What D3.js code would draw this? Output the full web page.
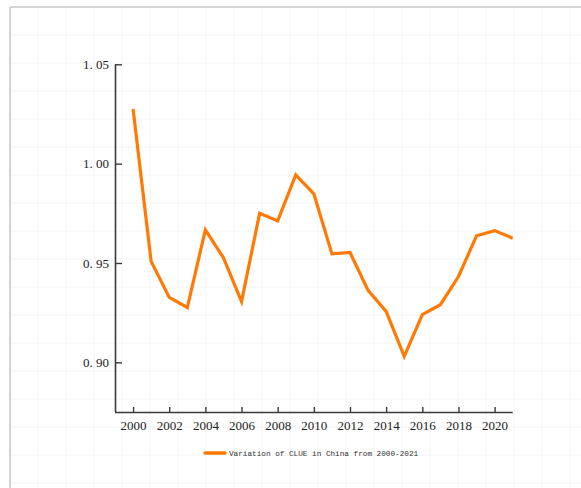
<!DOCTYPE html>
<html>
<head>
<meta charset="utf-8">
<script src="https://cdn.jsdelivr.net/npm/d3@7"></script>
<style>
  html, body { margin: 0; padding: 0; background: #fff; }
  svg { display: block; }
</style>
</head>
<body>
<svg id="chart" width="581" height="488"></svg>
<script>
// CLUE values by year, 2000–2021
const years = [2000, 2001, 2002, 2003, 2004, 2005, 2006, 2007, 2008, 2009, 2010,
               2011, 2012, 2013, 2014, 2015, 2016, 2017, 2018, 2019, 2020, 2021];
const clue = [1.0275, 0.9508, 0.9327, 0.9276, 0.9667, 0.9526, 0.9306, 0.9750, 0.9712, 0.9943, 0.9848,
              0.9546, 0.9553, 0.9362, 0.9256, 0.9030, 0.9240, 0.9290, 0.9432, 0.9637, 0.9663, 0.9625];
const xTicks = [2000, 2002, 2004, 2006, 2008, 2010, 2012, 2014, 2016, 2018, 2020];
const yTicks = [0.90, 0.95, 1.00, 1.05];
const seriesName = "Variation of CLUE in China from 2000-2021";

const W = 581, H = 488;
const svg = d3.select("#chart");

// Paper frame with a faint square grid
const frame = { x: 10, y: 7, step: 28 };
const bg = svg.append("g");
bg.selectAll("line.v")
  .data(d3.range(frame.x + frame.step, W, frame.step))
  .join("line")
  .attr("x1", d => d).attr("x2", d => d)
  .attr("y1", frame.y).attr("y2", H)
  .attr("stroke", "#f4f4f4").attr("stroke-width", 1);
bg.selectAll("line.h")
  .data(d3.range(frame.y + frame.step, H, frame.step))
  .join("line")
  .attr("x1", frame.x).attr("x2", W)
  .attr("y1", d => d).attr("y2", d => d)
  .attr("stroke", "#f4f4f4").attr("stroke-width", 1);
bg.append("line")
  .attr("x1", frame.x).attr("x2", W).attr("y1", frame.y).attr("y2", frame.y)
  .attr("stroke", "#d4d4d4").attr("stroke-width", 2);
bg.append("line")
  .attr("x1", frame.x).attr("x2", frame.x).attr("y1", frame.y).attr("y2", H)
  .attr("stroke", "#d4d4d4").attr("stroke-width", 2);

// Plot area
const plot = { left: 115, right: 512.7, top: 64.3, bottom: 412 };
const x = d3.scaleLinear().domain([1999, 2021]).range([plot.left, plot.right]);
const y = d3.scaleLinear().domain([0.875, 1.05]).range([plot.bottom, plot.top]);

const axisColor = "#3a3a3a";
const tickFont = "'Liberation Serif', 'DejaVu Serif', serif";

// Y axis: ticks point inward
const yAxis = svg.append("g")
  .attr("transform", `translate(${plot.left},0)`)
  .call(d3.axisLeft(y).tickValues(yTicks).tickSize(-7).tickPadding(6)
        .tickFormat(d => d3.format(".2f")(d).replace(".", ". ")));
yAxis.select(".domain").attr("d", `M0.5,${plot.top}V${plot.bottom}`);

// X axis: ticks point upward into the plot
const xAxis = svg.append("g")
  .attr("transform", `translate(0,${plot.bottom})`)
  .call(d3.axisBottom(x).tickValues(xTicks).tickSize(-5).tickPadding(9)
        .tickFormat(d3.format("d")));
xAxis.select(".domain").attr("d", `M${plot.left},0.5H${plot.right}`);

[yAxis, xAxis].forEach(g => {
  g.select(".domain").attr("stroke", axisColor).attr("stroke-width", 1.6);
  g.selectAll(".tick line").attr("stroke", axisColor).attr("stroke-width", 1.4);
  g.selectAll(".tick text")
    .attr("fill", "#222")
    .style("font-family", tickFont)
    .style("font-size", "13px");
});

// Series line
const lineColor = "#ff7a05";
const pts = years.map((yr, i) => [yr, clue[i]]);
svg.append("path")
  .datum(pts)
  .attr("fill", "none")
  .attr("stroke", lineColor)
  .attr("stroke-width", 3.2)
  .attr("stroke-linejoin", "miter")
  .attr("d", d3.line().x(d => x(d[0])).y(d => y(d[1])));

// Legend
const legend = svg.append("g").attr("transform", "translate(205,453)");
legend.append("line")
  .attr("x1", 0).attr("x2", 20).attr("y1", 0).attr("y2", 0)
  .attr("stroke", lineColor).attr("stroke-width", 3.5)
  .attr("stroke-linecap", "round");
legend.append("text")
  .attr("x", 24).attr("y", 0).attr("dy", "0.35em")
  .attr("fill", "#333")
  .style("font-family", "'Liberation Mono', 'DejaVu Sans Mono', monospace")
  .style("font-size", "7.7px")
  .text(seriesName);
</script>
</body>
</html>
